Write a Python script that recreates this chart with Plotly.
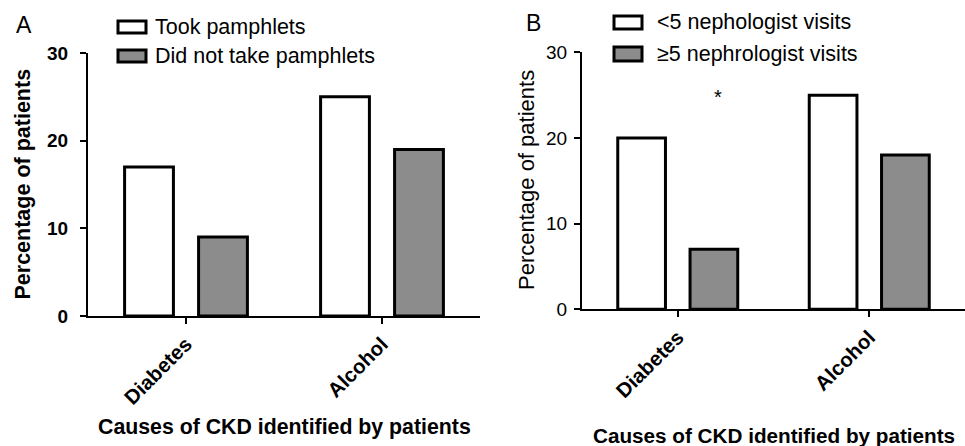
import plotly.graph_objects as go

# ---- data ----
categories = ["Diabetes", "Alcohol"]
a_series_names = ["Took pamphlets", "Did not take pamphlets"]
a_took = [17, 25]
a_not_took = [9, 19]
b_series_names = ["<5 nephologist visits", "\u22655 nephrologist visits"]
b_lt5 = [20, 25]
b_ge5 = [7, 18]
b_sig = ["*", ""]
b_sig_y = [24.8, None]
y_ticks = [0, 10, 20, 30]
panel_labels = ["A", "B"]
x_title = "Causes of CKD identified by patients"
y_title = "Percentage of patients"

W, H = 965, 446
FONT = "Liberation Sans, Arial, sans-serif"
WHITE = "#ffffff"
GREY = "#8c8c8c"

def px(x):
    return x / W

def py(y):
    return 1 - y / H

fig = go.Figure()
bar_line = dict(color="black", width=3)
fig.add_trace(go.Bar(x=categories, y=a_took, marker=dict(color=WHITE, line=bar_line),
                     xaxis="x", yaxis="y", showlegend=False, name=a_series_names[0]))
fig.add_trace(go.Bar(x=categories, y=a_not_took, marker=dict(color=GREY, line=bar_line),
                     xaxis="x", yaxis="y", showlegend=False, name=a_series_names[1]))
fig.add_trace(go.Bar(x=categories, y=b_lt5, marker=dict(color=WHITE, line=bar_line),
                     xaxis="x2", yaxis="y2", showlegend=False, name=b_series_names[0]))
fig.add_trace(go.Bar(x=categories, y=b_ge5, marker=dict(color=GREY, line=bar_line),
                     xaxis="x2", yaxis="y2", showlegend=False, name=b_series_names[1]))

def xaxis(domain, anchor, bold):
    return dict(domain=domain, anchor=anchor, type="category", range=[-0.5, 1.5],
                showline=True, linecolor="black", linewidth=2, ticks="outside",
                ticklen=6, tickwidth=2, tickcolor="black", tickangle=-45,
                showgrid=False, zeroline=False, automargin=False,
                tickfont=dict(family=FONT, size=20.5, color="black",
                              weight="bold" if bold else "normal"))

def yaxis(domain, anchor, bold, size, standoff):
    return dict(domain=domain, anchor=anchor, range=[0, 30], tickvals=y_ticks,
                showline=True, linecolor="black", linewidth=2, ticks="outside",
                ticklen=6, tickwidth=2, tickcolor="black", ticklabelstandoff=standoff,
                showgrid=False, zeroline=False, automargin=False,
                tickfont=dict(family=FONT, size=size, color="black",
                              weight="bold" if bold else "normal"))

annotations = []
shapes = []

# axis titles
annotations.append(dict(text=x_title, xref="paper", yref="paper", x=px(284), y=py(427),
                        showarrow=False, xanchor="center", yanchor="middle",
                        font=dict(family=FONT, size=21.3, color="black", weight="bold")))
annotations.append(dict(text=x_title, xref="paper", yref="paper", x=px(774), y=py(435),
                        showarrow=False, xanchor="center", yanchor="middle",
                        font=dict(family=FONT, size=20.7, color="black", weight="bold")))
annotations.append(dict(text=y_title, xref="paper", yref="paper", x=px(22.5), y=py(184),
                        showarrow=False, xanchor="center", yanchor="middle", textangle=-90,
                        font=dict(family=FONT, size=21.5, color="black", weight="bold")))
annotations.append(dict(text=y_title, xref="paper", yref="paper", x=px(526), y=py(180),
                        showarrow=False, xanchor="center", yanchor="middle", textangle=-90,
                        font=dict(family=FONT, size=22, color="black")))

# panel labels
annotations.append(dict(text=panel_labels[0], xref="paper", yref="paper", x=px(24), y=py(25),
                        showarrow=False, xanchor="center", yanchor="middle",
                        font=dict(family=FONT, size=23, color="black")))
annotations.append(dict(text=panel_labels[1], xref="paper", yref="paper", x=px(533), y=py(23),
                        showarrow=False, xanchor="center", yanchor="middle",
                        font=dict(family=FONT, size=23, color="black")))

# custom legends
def legend_item(x0, x1, y0, y1, fill, text, tx):
    shapes.append(dict(type="rect", xref="paper", yref="paper",
                       x0=px(x0), x1=px(x1), y0=py(y1), y1=py(y0),
                       fillcolor=fill, line=dict(color="black", width=3)))
    annotations.append(dict(text=text, xref="paper", yref="paper", x=px(tx), y=py((y0 + y1) / 2),
                            showarrow=False, xanchor="left", yanchor="middle",
                            font=dict(family=FONT, size=21.5, color="black")))

legend_item(118, 146, 21, 33, WHITE, a_series_names[0], 153)
legend_item(118, 146, 50, 62, GREY, a_series_names[1], 153)
legend_item(614, 642, 16, 29, WHITE, b_series_names[0], 655)
legend_item(614, 642, 47, 61, GREY, b_series_names[1], 655)

# significance marker
for i, (s, yv) in enumerate(zip(b_sig, b_sig_y)):
    if s:
        annotations.append(dict(text=s, xref="x2", yref="y2", x=i + 0.21, y=yv,
                                showarrow=False, xanchor="center", yanchor="middle",
                                font=dict(family=FONT, size=20, color="black")))

fig.update_layout(
    width=W, height=H,
    margin=dict(l=0, r=0, t=0, b=0, pad=0),
    paper_bgcolor="white", plot_bgcolor="white",
    barmode="group", bargap=0.245, bargroupgap=0.34,
    xaxis=xaxis([px(88), px(480)], "y", True),
    yaxis=yaxis([py(316), py(53)], "x", True, 19, 8),
    xaxis2=xaxis([px(582), 1.0], "y2", True),
    yaxis2=yaxis([py(309.3), py(52.3)], "x2", False, 19, 3),
    annotations=annotations,
    shapes=shapes,
    font=dict(family=FONT, color="black"),
    showlegend=False,
)

fig.write_html("out.html", config={"displayModeBar": False},
               post_script="document.body.style.margin='0';")
